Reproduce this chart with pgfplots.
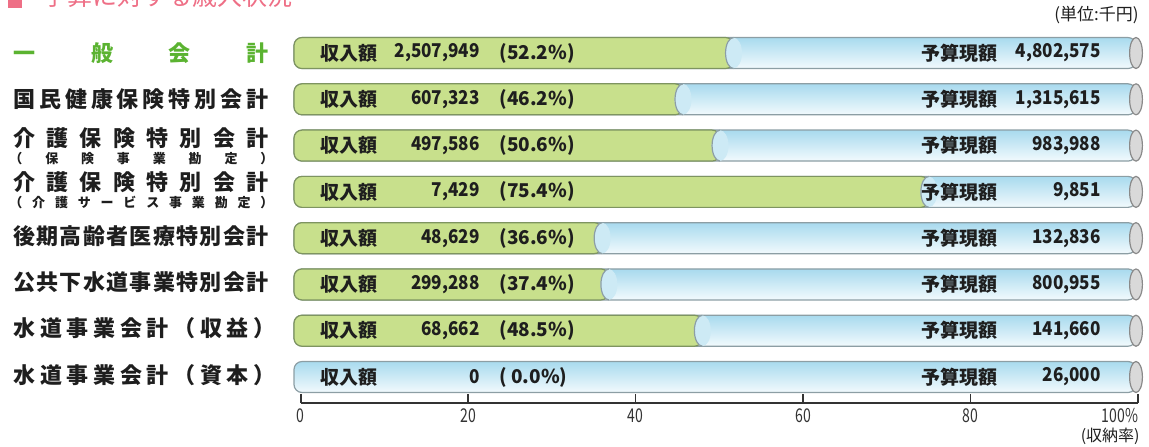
\documentclass[border=0pt]{standalone}
\usepackage{pgfplots}
\pgfplotsset{compat=1.18}
\usepackage{pgfplotstable}
\usepackage{fontspec}
\setmainfont{Noto Sans CJK JP}

\definecolor{barGreen}{HTML}{C8E08C}
\definecolor{barGreenLine}{HTML}{7E9460}
\definecolor{barBlueTop}{HTML}{A8DAEE}
\definecolor{barBlueBot}{HTML}{F2FAFD}
\definecolor{barBlueMid}{HTML}{CDEAF5}
\definecolor{barBlueLine}{HTML}{8C9EA4}
\definecolor{capFill}{HTML}{D9D9D9}
\definecolor{capLine}{HTML}{8A8A8A}
\definecolor{labGreen}{HTML}{5BB331}
\definecolor{titlePink}{HTML}{EE6F86}
\definecolor{txt}{HTML}{1E1E1E}
\definecolor{axisGray}{HTML}{333333}

\pgfplotstableread{
row pct
1 52.2
2 46.2
3 50.6
4 75.4
5 36.6
6 37.4
7 48.5
8 0.0
}\ratetable

\def\spreadfirst#1{#1\spreadstep}
\def\spreadstep#1{\ifx#1\relax\else\hfill#1\expandafter\spreadstep\fi}
\newcommand\spread[2]{\hbox to #1{\spreadfirst#2\relax}}

\pgfdeclareplotmark{blueend}{%
  \fill[barBlueMid] (0pt,0pt) ellipse [x radius=4pt, y radius=7.45pt];
  \draw[draw=barBlueLine, line width=0.6pt] (0pt,7.75pt) arc[start angle=90, end angle=270, x radius=4pt, y radius=7.75pt];
}
\pgfdeclareplotmark{barcap}{%
  \filldraw[fill=capFill, draw=capLine, line width=0.6pt] (0pt,0pt) ellipse [x radius=3.2pt, y radius=7.75pt];
}

\newcommand\labfont{\bfseries\fontsize{11pt}{12pt}\selectfont}
\newcommand\subfont{\bfseries\fontsize{6.5pt}{7pt}\selectfont}
\newcommand\barfont{\bfseries\fontsize{9.5pt}{10pt}\selectfont}

\begin{document}
\begin{tikzpicture}
\useasboundingbox (0,0) rectangle (574.5pt,223pt);
\clip (0,0) rectangle (574.5pt,223pt);

% ---- bars ----
\begin{axis}[
  at={(147pt,22.93pt)}, anchor=south west,
  scale only axis, width=421pt, height=185.14pt,
  xmin=0, xmax=100, ymin=0.5, ymax=8.5, y dir=reverse,
  hide axis, clip=false,
]
\pgfplotsinvokeforeach{1,...,8}{
  \addplot[xbar, bar width=15.5pt, bar shift=0pt, rounded corners=4pt,
    draw=barBlueLine, line width=0.6pt,
    top color=barBlueTop, bottom color=barBlueBot] coordinates {(100,#1)};
}
\addplot[xbar, bar width=15.5pt, bar shift=0pt, rounded corners=4pt,
  draw=barGreenLine, line width=0.6pt, fill=barGreen,
  restrict x to domain=0.05:101] table[x=pct,y=row] {\ratetable};
\addplot[only marks, mark=blueend, restrict x to domain=0.05:101]
  table[x=pct,y=row] {\ratetable};
\addplot[only marks, mark=barcap] coordinates
  {(100,1) (100,2) (100,3) (100,4) (100,5) (100,6) (100,7) (100,8)};
\end{axis}

% ---- bottom scale ----
\begin{axis}[
  at={(150.35pt,21.5pt)}, anchor=south west,
  scale only axis, width=418.65pt, height=10pt,
  xmin=0, xmax=100, ymin=0, ymax=1,
  axis x line=bottom, axis y line=none,
  axis line style={line width=1pt, draw=axisGray, -},
  xtick={0,20,40,60,80,100},
  xticklabels={0,20,40,60,80,\llap{100\%}},
  tick align=inside, major tick length=4.5pt,
  tick style={line width=0.8pt, draw=axisGray},
  xticklabel style={font=\fontsize{9.5pt}{10pt}\selectfont, text=axisGray,
    inner sep=0pt, anchor=north, yshift=-2.5pt, xscale=0.74},
  /pgf/number format/assume math mode=true,
]
\addplot[draw=none] coordinates {(0,0) (100,0)};
\end{axis}

% ---- texts (image pixel coordinates) ----
\begin{scope}[x=0.5pt, y=-0.5pt, shift={(0pt,223pt)}]
  % title (cut at top)
  \fill[titlePink] (8,-6) rectangle (22,8);
  \node[anchor=base west, inner sep=0, text=titlePink,
    font=\fontsize{12.5pt}{13pt}\selectfont] at (42,5) {予算に対する歳入状況};
  \node[anchor=east, inner sep=0, text=txt, font=\fontsize{8.5pt}{9pt}\selectfont]
    at (1139,15) {(単位:千円)};
  \node[anchor=east, inner sep=0, text=txt, font=\fontsize{8pt}{9pt}\selectfont]
    at (1140,436) {(収納率)};

  % row labels
  \begin{scope}[every node/.style={anchor=west, inner sep=0, text=txt}]
  \node[text=labGreen, font=\labfont] at (13,53) {\spread{127.5pt}{一般会計}};
  \node[font=\labfont] at (13,99) {\spread{127.5pt}{国民健康保険特別会計}};
  \node[font=\labfont] at (13,138) {\spread{127.5pt}{介護保険特別会計}};
  \node[font=\subfont] at (9,159) {\spread{132pt}{（保険事業勘定）}};
  \node[font=\labfont] at (13,182) {\spread{127.5pt}{介護保険特別会計}};
  \node[font=\subfont] at (9,202) {\spread{132pt}{（介護サービス事業勘定）}};
  \node[font=\labfont] at (13,236) {\spread{127.5pt}{後期高齢者医療特別会計}};
  \node[font=\labfont] at (13,282) {\spread{127.5pt}{公共下水道事業特別会計}};
  \node[font=\labfont] at (13,328.5) {\spread{131pt}{水道事業会計（収益）}};
  \node[font=\labfont] at (13,375) {\spread{131pt}{水道事業会計（資本）}};
  \end{scope}

  % texts in bars
  \foreach \r/\inc/\pc/\bud in {
      1/{2,507,949}/{(52.2\%)}/{4,802,575},
      2/{607,323}/{(46.2\%)}/{1,315,615},
      3/{497,586}/{(50.6\%)}/{983,988},
      4/{7,429}/{(75.4\%)}/{9,851},
      5/{48,629}/{(36.6\%)}/{132,836},
      6/{299,288}/{(37.4\%)}/{800,955},
      7/{68,662}/{(48.5\%)}/{141,660},
      8/{0}/{(\ 0.0\%)}/{26,000}}{
    \pgfmathsetmacro\cy{53+46.286*(\r-1)}
    \node[anchor=west, inner sep=0, text=txt, font=\barfont] at (320,\cy) {収入額};
    \node[anchor=east, inner sep=0, text=txt, font=\barfont, xscale=0.9] at (480,\cy) {\inc};
    \node[anchor=west, inner sep=0, text=txt, font=\barfont] at (499,\cy) {\pc};
    \node[anchor=west, inner sep=0, text=txt, font=\barfont] at (921,\cy) {予算現額};
    \node[anchor=east, inner sep=0, text=txt, font=\barfont, xscale=0.9] at (1101,\cy) {\bud};
  }
\end{scope}
\end{tikzpicture}
\end{document}
